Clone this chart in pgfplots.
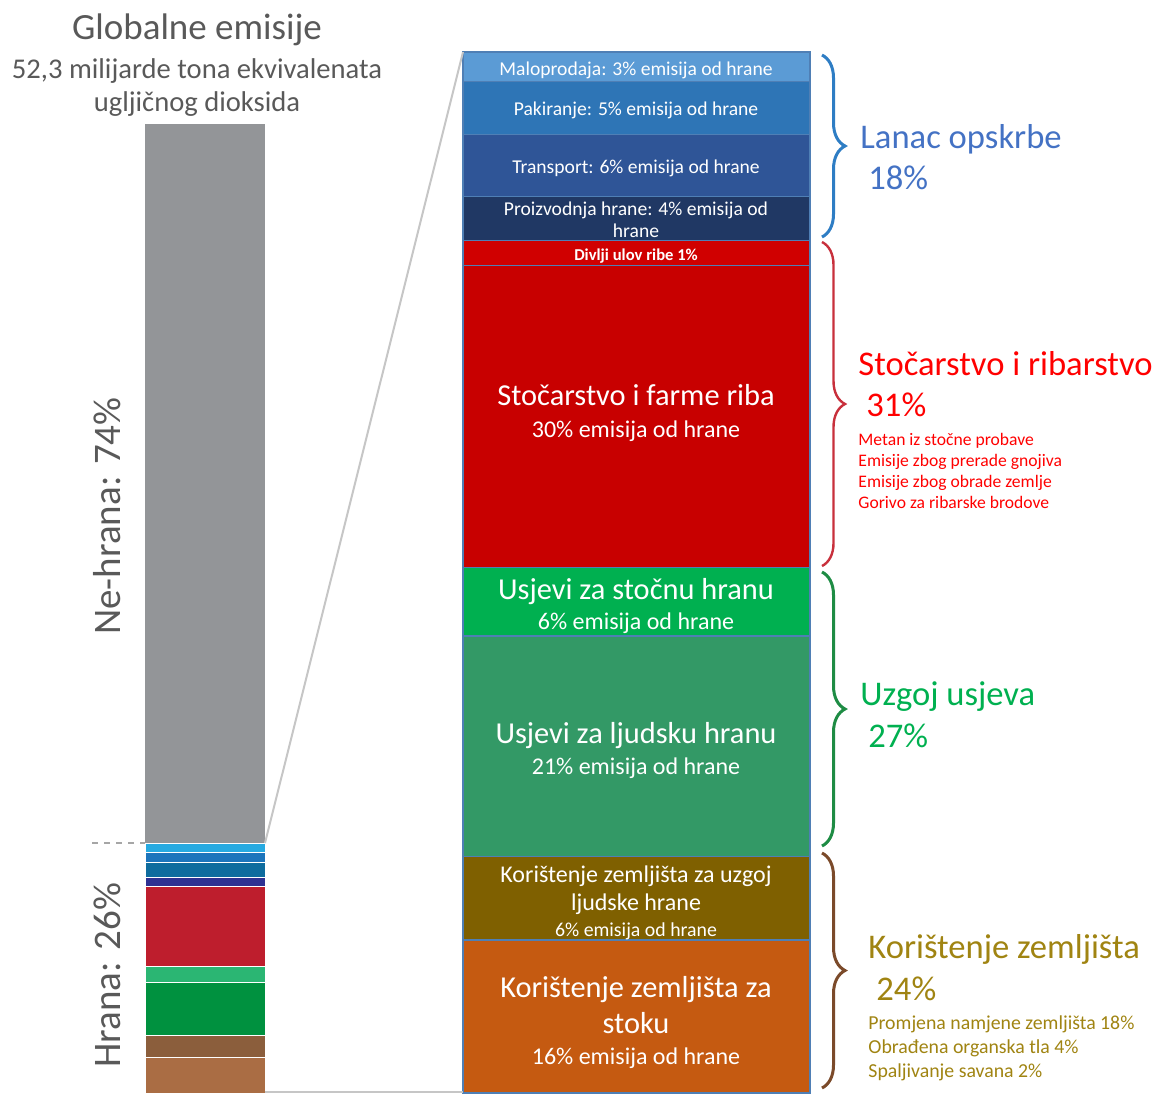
\documentclass[border=0pt]{standalone}
\usepackage{fontspec}
\setmainfont{Carlito}
\usepackage{pgfplots}
\pgfplotsset{compat=1.18}
\usetikzlibrary{decorations.pathreplacing}
% left bar colours
\definecolor{lGray}{HTML}{939598}
\definecolor{lLB}{HTML}{27AAE1}
\definecolor{lB}{HTML}{1C75BC}
\definecolor{lT}{HTML}{0E6C9E}
\definecolor{lN}{HTML}{2E3192}
\definecolor{lR}{HTML}{BE1E2D}
\definecolor{lLG}{HTML}{2BB673}
\definecolor{lG}{HTML}{00913F}
\definecolor{lBr}{HTML}{8B5E3C}
\definecolor{lOr}{HTML}{AA6D44}
% right bar colours
\definecolor{rMalo}{HTML}{5B9BD5}
\definecolor{rPak}{HTML}{2E75B6}
\definecolor{rTra}{HTML}{2F5597}
\definecolor{rPro}{HTML}{203864}
\definecolor{rDiv}{HTML}{D00000}
\definecolor{rSto}{HTML}{C80000}
\definecolor{rUsS}{HTML}{00B050}
\definecolor{rUsL}{HTML}{339966}
\definecolor{rKoL}{HTML}{7F6000}
\definecolor{rKoS}{HTML}{C55A11}
\definecolor{rEdge}{HTML}{4F7FB5}
% text colours
\definecolor{tGray}{HTML}{595959}
\definecolor{tBlue}{HTML}{4472C4}
\definecolor{tRed}{HTML}{FF0000}
\definecolor{tGreen}{HTML}{00B050}
\definecolor{tGold}{HTML}{A08412}
\definecolor{bBlue}{HTML}{2E7DC4}
\definecolor{bRed}{HTML}{C8303C}
\definecolor{bGreen}{HTML}{1E8C44}
\definecolor{bBrown}{HTML}{7B4A2A}
\newcommand{\fs}[1]{\fontsize{#1}{#1}\selectfont}
\begin{document}
\begin{tikzpicture}
\path[use as bounding box] (0,0) rectangle (580pt,-546.5pt);
% ---------- left bar: global emissions (%)
\begin{axis}[at={(72.5pt,-546.5pt)}, anchor=south west, scale only axis,
  width=60pt, height=484.5pt, xmin=-0.5, xmax=0.5, ymin=0, ymax=100,
  hide axis, ybar stacked, bar width=60pt, clip=false]
\addplot[fill=lOr, draw=white, line width=0.3pt] coordinates {(0,3.7)};
\addplot[fill=lBr, draw=white, line width=0.3pt] coordinates {(0,2.3)};
\addplot[fill=lG, draw=white, line width=0.3pt] coordinates {(0,5.4)};
\addplot[fill=lLG, draw=white, line width=0.3pt] coordinates {(0,1.7)};
\addplot[fill=lR, draw=white, line width=0.3pt] coordinates {(0,8.2)};
\addplot[fill=lN, draw=white, line width=0.3pt] coordinates {(0,1.0)};
\addplot[fill=lT, draw=white, line width=0.3pt] coordinates {(0,1.5)};
\addplot[fill=lB, draw=white, line width=0.3pt] coordinates {(0,1.0)};
\addplot[fill=lLB, draw=white, line width=0.3pt] coordinates {(0,1.0)};
\addplot[fill=lGray, draw=none] coordinates {(0,74.2)};
\end{axis}
% ---------- right bar: food emissions (%)
\begin{axis}[at={(231.5pt,-546.5pt)}, anchor=south west, scale only axis,
  width=173.5pt, height=520.5pt, xmin=-0.5, xmax=0.5, ymin=0, ymax=100,
  hide axis, ybar stacked, bar width=173.5pt, clip=false]
\addplot[fill=rKoS, draw=rEdge, line width=0.6pt] coordinates {(0,14.7)};
\addplot[fill=rKoL, draw=rEdge, line width=0.6pt] coordinates {(0,8.0)};
\addplot[fill=rUsL, draw=rEdge, line width=0.6pt] coordinates {(0,21.2)};
\addplot[fill=rUsS, draw=rEdge, line width=0.6pt] coordinates {(0,6.6)};
\addplot[fill=rSto, draw=rEdge, line width=0.6pt] coordinates {(0,29.0)};
\addplot[fill=rDiv, draw=rEdge, line width=0.6pt] coordinates {(0,2.4)};
\addplot[fill=rPro, draw=rEdge, line width=0.6pt] coordinates {(0,4.2)};
\addplot[fill=rTra, draw=rEdge, line width=0.6pt] coordinates {(0,6.0)};
\addplot[fill=rPak, draw=rEdge, line width=0.6pt] coordinates {(0,5.1)};
\addplot[fill=rMalo, draw=rEdge, line width=0.6pt] coordinates {(0,2.8)};
\end{axis}
% ---------- annotations in pixel units
\begin{scope}[x=0.5pt, y=-0.5pt, every node/.style={inner sep=0pt, text height=1em, text depth=.2em}]
\draw[gray!45, line width=1pt] (265,843) -- (463,52);
\draw[gray!45, line width=1pt] (265,1092) -- (463,1092);
\draw[gray!70, dashed, line width=0.8pt] (92,843) -- (145,843);
% titles
\node[tGray] at (197,31) {\fs{18.5}Globalne emisije};
\node[tGray] at (197,70) {\fs{14.3}52,3 milijarde tona ekvivalenata};
\node[tGray] at (197,103) {\fs{14.3}ugljičnog dioksida};
\node[tGray, rotate=90] at (112,516) {\fs{19.5}Ne-hrana: 74\%};
\node[tGray, rotate=90] at (112,975) {\fs{19.5}Hrana: 26\%};
% texts inside right bar
\begin{scope}[every node/.append style={white}]
\node at (636,67) {\fs{9.8}Maloprodaja: 3\% emisija od hrane};
\node at (636,107) {\fs{9.8}Pakiranje: 5\% emisija od hrane};
\node at (636,165) {\fs{9.8}Transport: 6\% emisija od hrane};
\node at (636,207) {\fs{9.8}Proizvodnja hrane: 4\% emisija od};
\node at (636,229) {\fs{9.8}hrane};
\node at (636,252) {\fs{8.3}\bfseries Divlji ulov ribe 1\%};
\node at (636,397) {\fs{15.2}Stočarstvo i farme riba};
\node at (636,429) {\fs{12}30\% emisija od hrane};
\node at (636,591) {\fs{15.2}Usjevi za stočnu hranu};
\node at (636,621) {\fs{12}6\% emisija od hrane};
\node at (636,735) {\fs{15.2}Usjevi za ljudsku hranu};
\node at (636,766) {\fs{12}21\% emisija od hrane};
\node at (636,874) {\fs{12}Korištenje zemljišta za uzgoj};
\node at (636,902) {\fs{12}ljudske hrane};
\node at (636,928) {\fs{9.9}6\% emisija od hrane};
\node at (636,989) {\fs{15.2}Korištenje zemljišta za};
\node at (636,1025) {\fs{15.2}stoku};
\node at (636,1056) {\fs{12}16\% emisija od hrane};
\end{scope}
% braces
\draw[bBlue, line width=1.5pt, decorate, decoration={brace, amplitude=11.5pt}] (822,55) -- (822,237);
\draw[bRed, line width=1.2pt, decorate, decoration={brace, amplitude=11.5pt}] (822,242) -- (822,566);
\draw[bGreen, line width=1.5pt, decorate, decoration={brace, amplitude=11.5pt}] (822,572) -- (822,846);
\draw[bBrown, line width=1.5pt, decorate, decoration={brace, amplitude=11.5pt}] (822,853) -- (822,1088);
% group labels
\node[tBlue, anchor=west] at (860,140) {\fs{17.3}Lanac opskrbe};
\node[tBlue, anchor=west] at (868,181) {\fs{17.3}18\%};
\node[tRed, anchor=west] at (858,367) {\fs{17.3}Stočarstvo i ribarstvo};
\node[tRed, anchor=west] at (866,408) {\fs{17.3}31\%};
\node[tRed, anchor=west] at (858,437) {\fs{8.8}Metan iz stočne probave};
\node[tRed, anchor=west] at (858,458) {\fs{8.8}Emisije zbog prerade gnojiva};
\node[tRed, anchor=west] at (858,479) {\fs{8.8}Emisije zbog obrade zemlje};
\node[tRed, anchor=west] at (858,500) {\fs{8.8}Gorivo za ribarske brodove};
\node[tGreen, anchor=west] at (860,697) {\fs{17.3}Uzgoj usjeva};
\node[tGreen, anchor=west] at (868,739) {\fs{17.3}27\%};
\node[tGold, anchor=west] at (868,950) {\fs{17.3}Korištenje zemljišta};
\node[tGold, anchor=west] at (876,992) {\fs{17.3}24\%};
\node[tGold, anchor=west] at (868,1021) {\fs{9.9}Promjena namjene zemljišta 18\%};
\node[tGold, anchor=west] at (868,1045) {\fs{9.9}Obrađena organska tla 4\%};
\node[tGold, anchor=west] at (868,1069) {\fs{9.9}Spaljivanje savana 2\%};
\end{scope}
\end{tikzpicture}
\end{document}
